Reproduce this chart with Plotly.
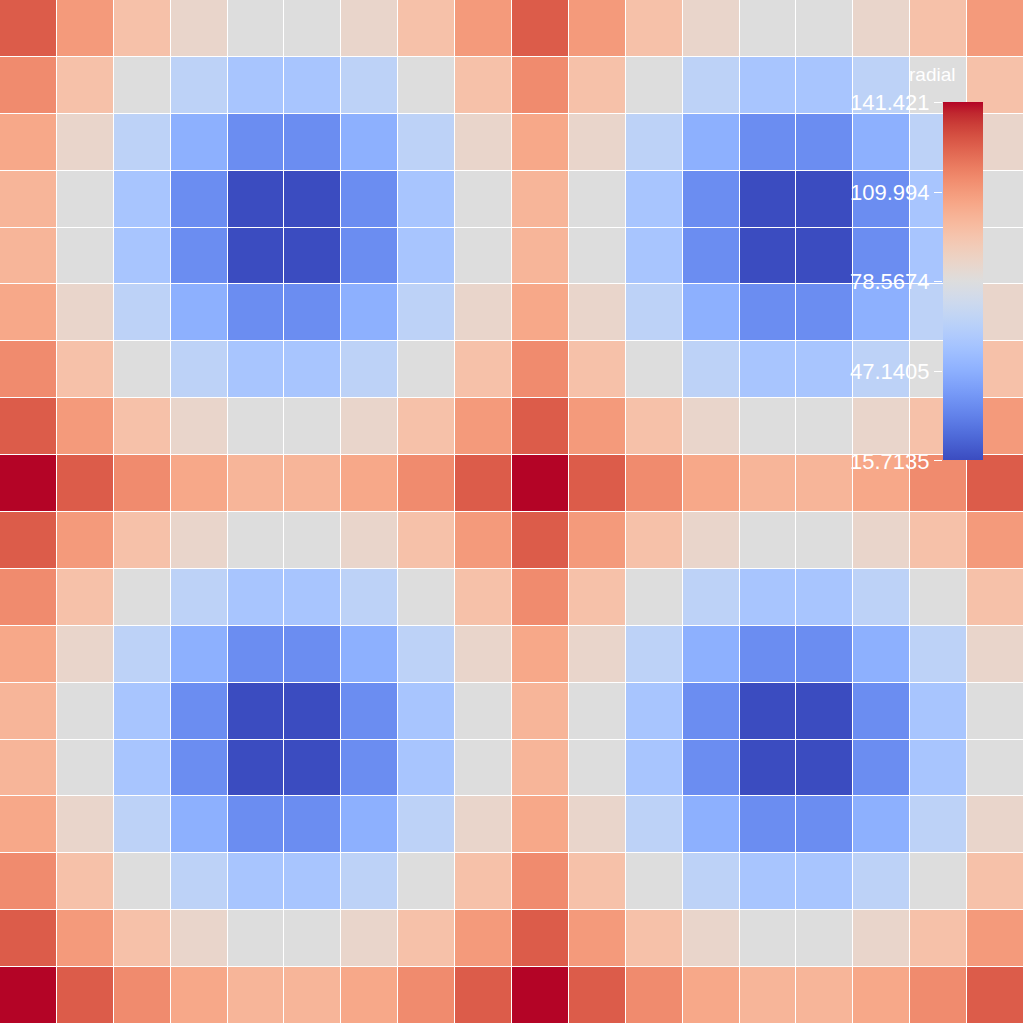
import plotly.graph_objects as go

row_B = [126.69, 109.99, 95.58, 84.62, 78.57, 78.57, 84.62, 95.58, 109.99, 126.69, 109.99, 95.58, 84.62, 78.57, 78.57, 84.62, 95.58, 109.99]
row_C = [114.40, 95.58, 78.57, 64.79, 56.66, 56.66, 64.79, 78.57, 95.58, 114.40, 95.58, 78.57, 64.79, 56.66, 56.66, 64.79, 78.57, 95.58]
row_D = [105.41, 84.62, 64.79, 47.14, 35.14, 35.14, 47.14, 64.79, 84.62, 105.41, 84.62, 64.79, 47.14, 35.14, 35.14, 47.14, 64.79, 84.62]
row_E = [100.62, 78.57, 56.66, 35.14, 15.71, 15.71, 35.14, 56.66, 78.57, 100.62, 78.57, 56.66, 35.14, 15.71, 15.71, 35.14, 56.66, 78.57]
row_A = [141.42, 126.69, 114.40, 105.41, 100.62, 100.62, 105.41, 114.40, 126.69, 141.42, 126.69, 114.40, 105.41, 100.62, 100.62, 105.41, 114.40, 126.69]

# rows listed top to bottom
z_values = [row_B, row_C, row_D, row_E, row_E, row_D, row_C, row_B, row_A,
            row_B, row_C, row_D, row_E, row_E, row_D, row_C, row_B, row_A]

tick_vals = [15.7135, 47.1405, 78.5674, 109.994, 141.421]
tick_text = ["15.7135", "47.1405", "78.5674", "109.994", "141.421"]
colorbar_title = "radial"

coolwarm = [
    [0.0, "rgb(59,76,192)"], [0.03125, "rgb(68,90,204)"], [0.0625, "rgb(77,104,215)"],
    [0.09375, "rgb(87,117,225)"], [0.125, "rgb(98,130,234)"], [0.15625, "rgb(108,142,241)"],
    [0.1875, "rgb(119,154,247)"], [0.21875, "rgb(130,165,251)"], [0.25, "rgb(141,176,254)"],
    [0.28125, "rgb(152,185,255)"], [0.3125, "rgb(163,194,255)"], [0.34375, "rgb(174,201,253)"],
    [0.375, "rgb(184,208,249)"], [0.40625, "rgb(194,213,244)"], [0.4375, "rgb(204,217,238)"],
    [0.46875, "rgb(213,219,230)"], [0.5, "rgb(221,221,221)"], [0.53125, "rgb(229,216,209)"],
    [0.5625, "rgb(236,211,197)"], [0.59375, "rgb(241,204,185)"], [0.625, "rgb(245,196,173)"],
    [0.65625, "rgb(247,187,160)"], [0.6875, "rgb(247,177,148)"], [0.71875, "rgb(247,166,135)"],
    [0.75, "rgb(244,154,123)"], [0.78125, "rgb(241,141,111)"], [0.8125, "rgb(236,127,99)"],
    [0.84375, "rgb(229,112,88)"], [0.875, "rgb(222,96,77)"], [0.90625, "rgb(213,80,66)"],
    [0.9375, "rgb(203,62,56)"], [0.96875, "rgb(192,40,47)"], [1.0, "rgb(180,4,38)"],
]

CB_TOP, CB_LEN = 0.9, 0.35
CB_LEFT = 0.9209

fig = go.Figure()
fig.add_trace(go.Heatmap(
    z=z_values,
    colorscale=coolwarm,
    zmin=tick_vals[0], zmax=tick_vals[-1],
    xgap=1, ygap=1,
    colorbar=dict(
        showticklabels=False, ticks="",
        thickness=40, len=CB_LEN, lenmode="fraction",
        y=CB_TOP, yanchor="top", x=CB_LEFT, xanchor="left",
        xpad=0, ypad=0, outlinewidth=0,
    ),
))
# axis carrying the colour-bar tick labels on the left side of the bar
fig.add_trace(go.Scatter(x=[], y=[], yaxis="y2", showlegend=False, hoverinfo="skip"))

fig.update_layout(
    width=1024, height=1024,
    margin=dict(l=0, r=0, t=0, b=0, autoexpand=False),
    plot_bgcolor="rgba(0,0,0,0)", paper_bgcolor="white",
    font=dict(family="Arial"),
    xaxis=dict(visible=False, automargin=False),
    yaxis=dict(visible=False, autorange="reversed", automargin=False),
    yaxis2=dict(
        anchor="free", position=CB_LEFT - 0.001, side="left",
        domain=[CB_TOP - CB_LEN, CB_TOP], automargin=False,
        range=[tick_vals[0], tick_vals[-1]],
        tickmode="array", tickvals=tick_vals, ticktext=tick_text,
        ticks="outside", ticklen=8, tickcolor="white", tickwidth=1,
        tickfont=dict(color="white", size=22, family="Arial"),
        showgrid=False, zeroline=False, showline=False,
    ),
    annotations=[dict(
        text=colorbar_title, xref="paper", yref="paper",
        x=0.9345, y=0.9268, xanchor="right", yanchor="middle",
        showarrow=False, font=dict(color="white", size=19, family="Arial"),
    )],
)
fig.write_html("out.html")
